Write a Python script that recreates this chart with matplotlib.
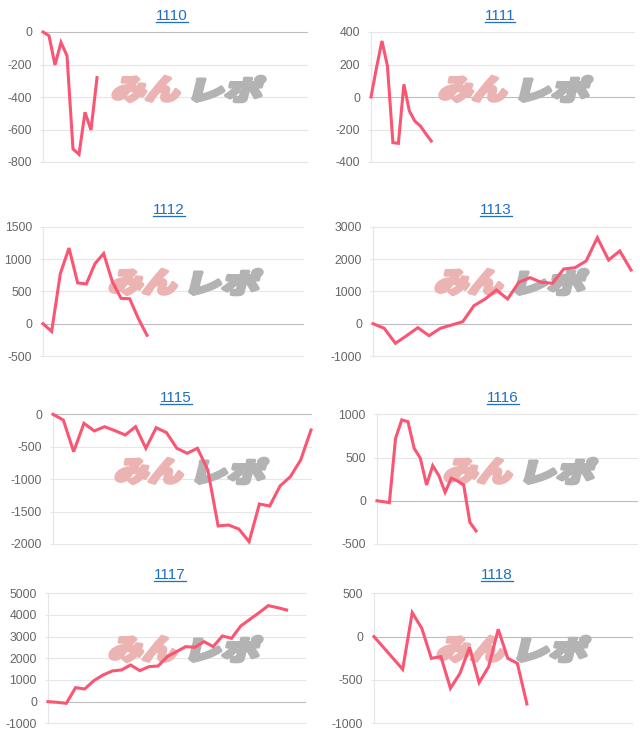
import matplotlib; matplotlib.use("Agg")
import matplotlib.pyplot as plt
from matplotlib.textpath import TextPath
from matplotlib.patches import PathPatch
from matplotlib.font_manager import FontProperties
from matplotlib.transforms import Affine2D
from matplotlib.lines import Line2D

plt.rcParams['axes.unicode_minus'] = False

# --- data ---
titles = ["1110", "1111", "1112", "1113", "1115", "1116", "1117", "1118"]
v1110 = [0, -23, -203, -64, -146, -720, -753, -494, -603, -281]
v1111 = [0, 180, 345, 191, -281, -285, 78, -86, -148, -178, -226, -271]
v1112 = [0, -120, 775, 1170, 630, 615, 930, 1085, 650, 392, 385, 80, -180]
v1113 = [0, -143, -607, -370, -124, -371, -143, -41, 62, 557, 763, 1042, 763, 1280,
         1423, 1280, 1250, 1691, 1732, 1939, 2660, 1970, 2249, 1660]
v1115 = [0, -88, -576, -139, -257, -191, -252, -319, -191, -524, -206, -283, -524,
         -601, -524, -858, -1722, -1707, -1768, -1964, -1383, -1414, -1105, -962, -704, -242]
v1116 = [0, -10, -22, 723, 935, 915, 607, 492, 183, 406, 290, 98, 260, 229, 183, -249, -349]
v1117 = [0, -31, -77, 646, 585, 969, 1231, 1415, 1462, 1692, 1431, 1615, 1646, 2077,
         2308, 2538, 2508, 2769, 2538, 3031, 2923, 3492, 3800, 4108, 4431, 4338, 4231]
v1118 = [0, -125, -251, -377, 277, 96, -250, -231, -596, -423, -123, -531, -346, 85,
         -250, -308, -777]
series = [v1110, v1111, v1112, v1113, v1115, v1116, v1117, v1118]
n_labels = [45, 49, 31, 24, 26, 43, 29, 28]
y_min = [-800, -400, -500, -1000, -2000, -500, -1000, -1000]
y_max = [0, 400, 1500, 3000, 0, 1000, 5000, 500]
y_step = [200, 200, 500, 1000, 500, 500, 1000, 500]

# --- layout in pixels (left, right, top, bottom), title (x, baseline), logo (x, top)
W, H = 640, 745
boxes = [(43, 307, 32, 162), (371, 634, 32, 162),
         (43, 303, 226.7, 356), (373, 631, 226.7, 356),
         (53, 311, 414.3, 544), (377, 637, 414.3, 544),
         (48, 305, 593.3, 723.3), (374, 632, 593.3, 723.3)]
title_pos = [(172, 19.5), (500, 19.5), (169, 213.5), (496, 213.5),
             (176, 401.7), (503, 401.7), (170, 579.3), (497, 579.3)]
logo_pos = [(110, 75), (437, 75), (107, 268), (433, 268),
            (113, 457), (442, 457), (107, 635), (435, 635)]

LINE = '#fa5573'
GRID = '#e6e6e6'
ZERO = '#bdbdbd'
TICK = '#666666'
LINK = '#1f6fc5'

fig = plt.figure(figsize=(6.4, 7.45), dpi=100)
fig.patch.set_facecolor('white')
pxT = Affine2D().scale(1 / W, 1 / H) + fig.transFigure
fp = FontProperties(family=['Noto Sans CJK JP'], weight='black')


def logo(ax, x0, ytop, w=158, h=28):
    parts = [("みん", '#ecb3b3', 0.0, 0.48), ("レポ", '#b3b3b3', 0.51, 0.49)]
    sk = 14
    for s, c, fx, fw in parts:
        tp = TextPath((0, 0), s, size=10, prop=fp)
        e = tp.get_extents()
        ww = w * fw - h * 0.25 - 3
        tr = (Affine2D().translate(-e.x0, -e.y0).scale(ww / e.width, (h - 3) / e.height)
              .skew_deg(sk, 0).translate(x0 + fx * w + 1.5, H - ytop - h + 1.5)) + pxT
        ax.add_patch(PathPatch(tp, transform=tr, fc=c, ec=c, lw=2.6, joinstyle='round',
                               zorder=1, clip_on=False))


axes = []
for i, v in enumerate(series):
    l, r, t, b = boxes[i]
    ax = fig.add_axes([l / W, 1 - b / H, (r - l) / W, (b - t) / H])
    ax.set_facecolor('none')
    for s in ('top', 'right', 'bottom'):
        ax.spines[s].set_visible(False)
    ax.spines['left'].set_color(GRID)
    ax.spines['left'].set_linewidth(0.8)
    ticks = list(range(y_min[i], y_max[i] + 1, y_step[i]))
    ax.set_ylim(y_min[i], y_max[i])
    ax.set_xlim(0, n_labels[i] - 1)
    ax.set_yticks(ticks)
    ax.set_xticks([])
    ax.tick_params(axis='y', length=2, width=0.8, color=GRID, pad=6,
                   labelsize=8.8, labelcolor=TICK)
    for lab in ax.get_yticklabels():
        lab.set_fontfamily('Liberation Sans')
    for tk in ticks:
        ax.axhline(tk, color=ZERO if tk == 0 else GRID, lw=0.8, zorder=0.5, clip_on=False)
    logo(ax, *logo_pos[i])
    ax.plot(range(len(v)), v, color=LINE, lw=2.2, solid_joinstyle='miter',
            zorder=3, clip_on=False)
    axes.append(ax)

# titles as underlined links
txts = []
for i, tt in enumerate(titles):
    x, yb = title_pos[i]
    txts.append(fig.text(x / W, 1 - yb / H, tt, ha='center', va='baseline',
                         fontsize=11, color=LINK, family='Liberation Sans'))
fig.canvas.draw()
for i, tx in enumerate(txts):
    bb = tx.get_window_extent()
    yb = title_pos[i][1] + 2
    fig.add_artist(Line2D([bb.x0 / W, bb.x1 / W], [1 - yb / H, 1 - yb / H],
                          transform=fig.transFigure, color=LINK, lw=0.9))

fig.savefig("out.png", dpi=100)
